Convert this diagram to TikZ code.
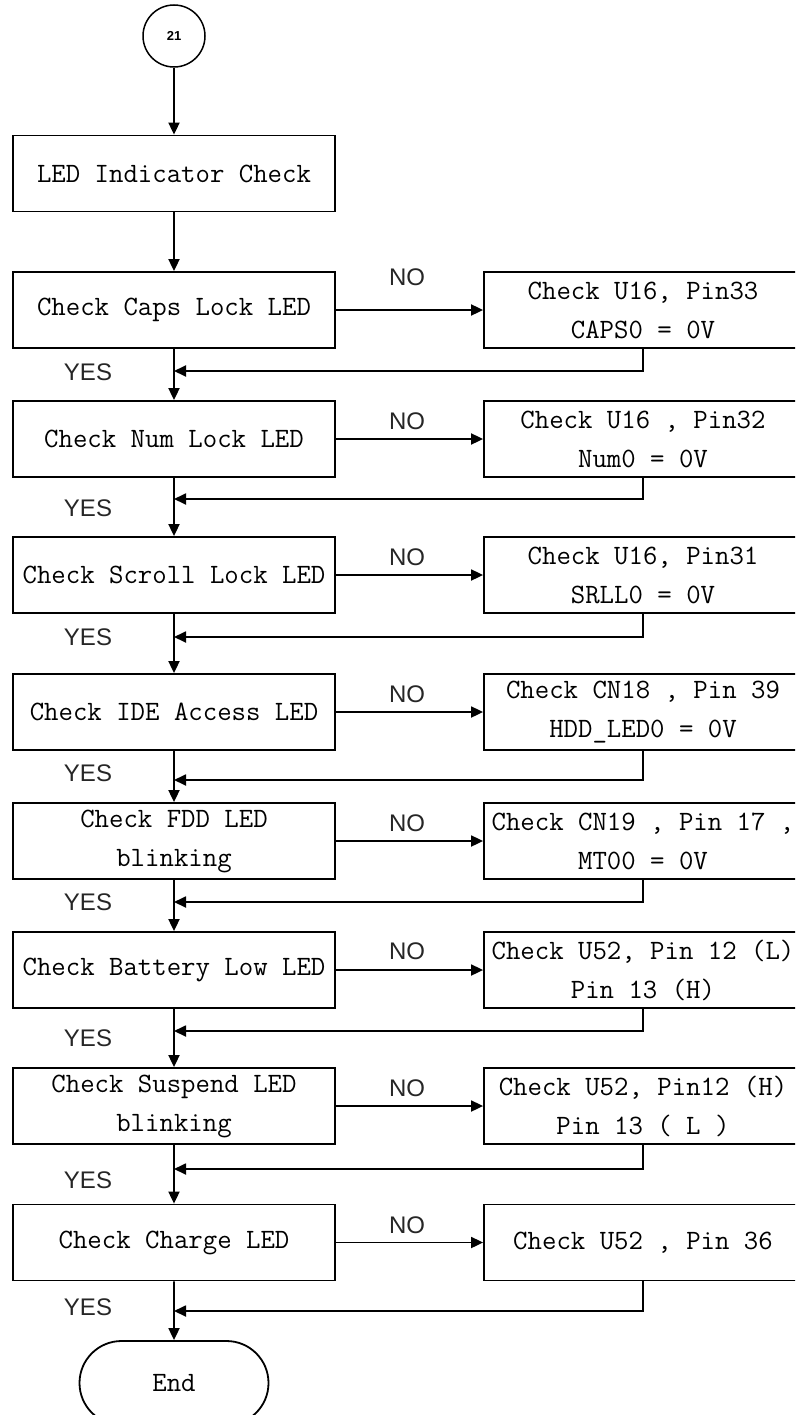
\documentclass[tikz,border=0pt]{standalone}
\usepackage{fontspec}
\setsansfont{Liberation Sans}
\usetikzlibrary{arrows.meta,shapes.misc}
\tikzset{
  lbox/.style={draw, line width=1.8pt, minimum width=322pt, minimum height=76pt,
    font=\ttfamily\fontsize{28}{39}\selectfont, align=center, inner sep=0pt},
  rbox/.style={lbox, minimum width=318pt},
  arr/.style={line width=1.8pt, -{Triangle[length=12pt,width=11pt]}},
  yn/.style={font=\sffamily\fontsize{24}{24}\selectfont, inner sep=0pt, text=black!85},
}
\begin{document}
\begin{tikzpicture}[x=1pt,y=-1pt]
\useasboundingbox (0,0) rectangle (795,1415);
\clip (0,0) rectangle (795,1415);
\fill[white] (0,0) rectangle (795,1415);

% start connector
\node[draw, circle, minimum size=62pt, line width=1.5pt, inner sep=0pt,
      font=\sffamily\bfseries\fontsize{13}{13}\selectfont] (start) at (174,36) {21};

% left column
\node[lbox] (b1) at (174,173.5) {LED Indicator Check};
\node[lbox] (b2) at (174,310) {Check Caps Lock LED};
\node[lbox] (b3) at (174,439) {Check Num Lock LED};
\node[lbox] (b4) at (174,575) {Check Scroll Lock LED};
\node[lbox] (b5) at (174,712) {Check IDE Access LED};
\node[lbox] (b6) at (174,841) {Check FDD LED\\blinking};
\node[lbox] (b7) at (174,970) {Check Battery Low LED};
\node[lbox] (b8) at (174,1106) {Check Suspend LED\\blinking};
\node[lbox] (b9) at (174,1242.5) {Check Charge LED};
\node[draw, rounded rectangle, line width=1.8pt, minimum width=189pt, minimum height=84pt,
      inner sep=0pt, font=\ttfamily\fontsize{28}{38}\selectfont] (end) at (174,1383) {End};

% right column
\node[rbox] (n2) at (643,310) {Check U16, Pin33\\CAPS0 = 0V};
\node[rbox] (n3) at (643,439) {Check U16 , Pin32\\Num0 = 0V};
\node[rbox] (n4) at (643,575) {Check U16, Pin31\\SRLL0 = 0V};
\node[rbox] (n5) at (643,712) {Check CN18 , Pin 39\\HDD\_LED0 = 0V};
\node[rbox] (n6) at (643,841) {Check CN19 , Pin 17 ,\\MT00 = 0V};
\node[rbox] (n7) at (643,970) {Check U52, Pin 12 (L)\\Pin 13 (H)};
\node[rbox] (n8) at (643,1106) {Check U52, Pin12 (H)\\Pin 13 ( L )};
\node[rbox] (n9) at (643,1242.5) {Check U52 , Pin 36};

% junction points on the main line
\coordinate (j2) at (174,371);
\coordinate (j3) at (174,499);
\coordinate (j4) at (174,637);
\coordinate (j5) at (174,780);
\coordinate (j6) at (174,902);
\coordinate (j7) at (174,1031);
\coordinate (j8) at (174,1169);
\coordinate (j9) at (174,1311);

% main flow
\draw[arr] (start) -- (b1);
\draw[arr] (b1) -- (b2);
\draw[arr] (b2) -- (b3);
\draw[arr] (b3) -- (b4);
\draw[arr] (b4) -- (b5);
\draw[arr] (b5) -- (b6);
\draw[arr] (b6) -- (b7);
\draw[arr] (b7) -- (b8);
\draw[arr] (b8) -- (b9);
\draw[arr] (b9) -- (end);

% NO branches
\foreach \i in {2,...,9}{
  \draw[arr] (b\i.east) -- (n\i.west);
  \draw[arr] (n\i.south) |- (j\i);
}

% labels
\node[yn] (no2) at (407,277) {NO};
\node[yn] (no3) at (407,421) {NO};
\node[yn] (no4) at (407,557) {NO};
\node[yn] (no5) at (407,694) {NO};
\node[yn] (no6) at (407,823) {NO};
\node[yn] (no7) at (407,951) {NO};
\node[yn] (no8) at (407,1088) {NO};
\node[yn] (no9) at (407,1225) {NO};

\node[yn] (y2) at (88,372) {YES};
\node[yn] (y3) at (88,508) {YES};
\node[yn] (y4) at (88,637) {YES};
\node[yn] (y5) at (88,773) {YES};
\node[yn] (y6) at (88,902) {YES};
\node[yn] (y7) at (88,1038) {YES};
\node[yn] (y8) at (88,1180) {YES};
\node[yn] (y9) at (88,1307) {YES};
\end{tikzpicture}
\end{document}
